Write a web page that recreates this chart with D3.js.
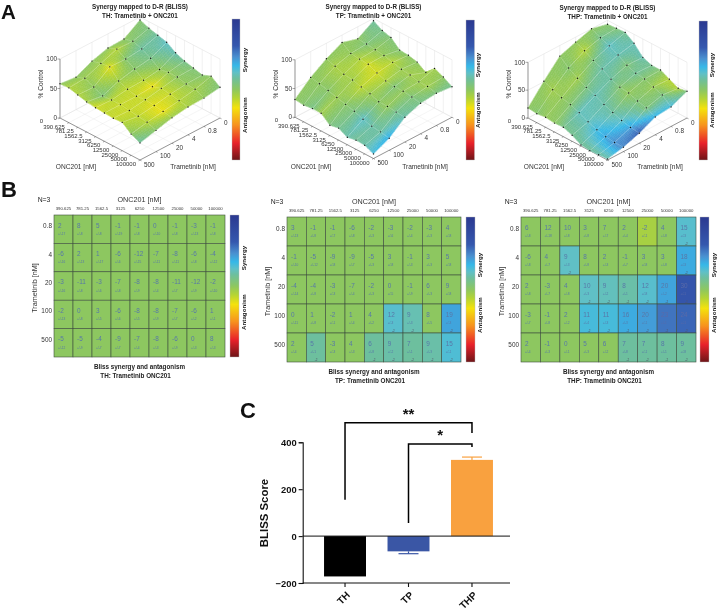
<!DOCTYPE html>
<html><head><meta charset="utf-8">
<script src="https://cdn.jsdelivr.net/npm/d3@7"></script>
<style>html,body{margin:0;padding:0;background:#fff}svg{display:block;filter:blur(0.3px)}text{font-family:"Liberation Sans",Arial,sans-serif}</style>
</head><body><svg id="c" width="720" height="612"></svg>
<script>
// ---- tick labels ----
const oncTicks3d = ["0","390.625","781.25","1562.5","3125","6250","12500","25000","50000","100000"];
const tramTicks3d = ["0","0.8","4","20","100","500"];
const oncTicks = oncTicks3d.slice(1);
const tramTicks = tramTicks3d.slice(1);
const zTicks = [0,50,100];
// ---- % control surfaces (rows: Trametinib, columns: ONC201) ----
const thSurface = [
 [95,89,85,81,71,65,61,57,63,52],
 [77,81,76,68,57,60,60,56,55,48],
 [76,82,73,64,53,50,55,53,50,47],
 [68,72,74,58,52,48,50,48,46,43],
 [55,61,54,47,48,48,46,44,42,36],
 [58,59,55,51,49,48,47,48,36,29]];
const tpSurface = [
 [96,87,83,69,68,64,54,69,62,53],
 [79,78,76,74,70,66,64,60,60,56],
 [87,76,74,73,66,60,58,58,56,53],
 [73,68,62,60,56,52,46,46,44,43],
 [55,52,48,44,40,36,30,26,24,21],
 [31,29,31,31,18,21,13,16,15,8]];
const thpSurface = [
 [93,94,95,84,67,61,61,53,45,48],
 [100,92,86,78,68,62,60,54,48,35],
 [91,84,75,68,58,52,50,44,40,32],
 [81,68,58,50,44,36,30,24,20,18],
 [51,44,38,34,28,20,14,10,8,8],
 [18,16,18,16,17,11,2,0,1,2]];
// synergy along the Trametinib 0 row of each surface
const thEdge = [2,4,8,12,10,6,3,2,0,3];
const tpEdge = [8,5,3,2,1,0,-2,-3,0,6];
const thpEdge = [2,3,6,10,10,6,2,-6,-6,4];
// ---- Bliss values ----
const thBliss = [
 [2,8,5,-1,-1,0,-1,-3,-1],
 [-6,2,1,-6,-12,-7,-8,-6,-4],
 [-3,-11,-3,-7,-8,-8,-11,-12,-2],
 [-2,0,3,-6,-8,-8,-7,-6,1],
 [-5,-5,-4,-9,-7,-8,-6,0,8]];
const tpBliss = [
 [3,-1,-1,-6,-2,-3,-2,-3,4],
 [-1,-5,-9,-9,-5,3,-1,3,5],
 [-4,-4,-3,-7,-2,0,-1,6,9],
 [0,1,-2,1,4,12,9,8,19],
 [2,5,-3,4,6,9,7,9,15]];
const thpBliss = [
 [6,12,10,3,7,2,-2,4,15],
 [-6,4,9,8,2,-1,3,3,18],
 [2,-3,4,10,9,8,12,20,30],
 [-3,-1,2,11,11,16,20,23,24],
 [2,-1,0,5,6,7,7,8,9]];
const thErr = [
 [17,8,8,19,8,10,8,13,8],
 [16,13,17,6,15,11,11,8,12],
 [16,8,6,8,9,4,7,9,10],
 [13,8,5,6,5,9,7,2,1],
 [12,9,7,7,4,3,9,3,3]];
const tpErr = [
 [13,8,7,8,3,6,4,3,8],
 [10,12,8,7,3,8,3,3,8],
 [14,8,3,4,3,5,9,3,8],
 [11,8,1,4,2,3,3,5,3],
 [4,1,3,3,8,2,1,3,1]];
const thpErr = [
 [8,18,8,8,7,4,1,8,3],
 [8,7,3,8,3,7,8,8,3],
 [8,7,8,3,2,1,8,2,1],
 [7,8,2,4,3,3,1,1,1],
 [4,3,1,3,2,8,1,1,8]];
// cell shade on the colour bar: only significant cells leave the neutral green
const thShade = [
 [0,0,0,0,0,0,0,0,0],[0,0,0,0,0,0,0,0,0],[0,0,0,0,0,0,0,0,0],[0,0,0,0,0,0,0,0,0],[0,0,0,0,0,0,0,0,0]];
const tpShade = [
 [0,0,0,0,0,0,0,0,0],[0,0,0,0,0,0,0,0,0],[0,0,0,0,0,0,0,0,0],
 [0,0,0,0,0,13,10,0,20],
 [0,8,0,0,8,9,8,9,14]];
const thpShade = [
 [0,0,0,0,0,0,-4,0,13],
 [0,0,12,0,0,0,0,0,19],
 [0,0,0,12,11,9,13,20,33],
 [0,0,0,15,15,19,21,27,29],
 [0,0,0,0,0,8,8,8,8]];
// ---- colour bar ----
const cbValues = [-50,-38,-25,-13,-6,0,8,12,17,23,31,50];
const cbColors = ["#6e1518","#e8212a","#f7931e","#f4e20c","#b4d435","#8dc760","#6dbf9e","#60c0c6","#36b8e8","#4a90d0","#3558ae","#2b3990"];
// ---- bar chart ----
const barCats = ["TH","TP","THP"];
const barValues = [-172,-65,325];
const barErrors = [0,10,12];
const barColors = ["#000000","#3a56a5","#f9a13f"];
const barTicks = [-200,0,200,400];
// brackets: [from category, from value, top value, to category, to value]
const bracketList = [["TH",155,483,"THP",440,"**"],["TP",56,393,"THP",380,"*"]];

const svg = d3.select("#c");
svg.append("rect").attr("width",720).attr("height",612).attr("fill","#fff");
const color = d3.scaleLinear().domain(cbValues).range(cbColors).interpolate(d3.interpolateRgb).clamp(true);
const defs = svg.append("defs");
const gr = defs.append("linearGradient").attr("id","cb").attr("x1",0).attr("x2",0).attr("y1",1).attr("y2",0);
const cbFrac = d3.scaleLinear().domain([-50,50]).range([0,1]);
cbValues.forEach((v,i)=>gr.append("stop").attr("offset",cbFrac(v)).attr("stop-color",cbColors[i]));

function txt(g,x,y,s,size,opt={}){
  const t=g.append("text").attr("x",x).attr("y",y).text(s).attr("font-size",size)
   .attr("text-anchor",opt.anchor||"middle").attr("fill",opt.fill||"#222");
  if(opt.bold)t.attr("font-weight","bold");
  if(opt.rot!=null)t.attr("transform",`rotate(${opt.rot} ${x} ${y})`);
  if(opt.op)t.attr("opacity",opt.op);
  return t;
}
function colorBar(g,x,y0,y1,w,lx,sy,ay,fs){
  g.append("rect").attr("x",x).attr("y",y0).attr("width",w).attr("height",y1-y0).attr("fill","url(#cb)").attr("stroke","#bbb").attr("stroke-width",.4);
  txt(g,lx,sy,"Synergy",fs,{bold:true,rot:-90});
  txt(g,lx,ay,"Antagonism",fs,{bold:true,rot:-90});
}
function surface(cfg){
  const g=svg.append("g");
  const {L,C,R,F,B,zh,Z,bliss,edge,name}=cfg;
  const uS=d3.scalePoint().domain(oncTicks3d).range([0,1]);
  const vS=d3.scalePoint().domain(tramTicks3d).range([0,1]);
  const zS=d3.scaleLinear().domain([0,100]).range([0,zh]);
  const sx=(u,v)=>C+(R-C)*u-(C-L)*v;
  const sy=(u,v,z)=>B+(F-B)/2*u+(F-B)/2*v-zS(z);
  const line=(a,b,c,d,col,w)=>g.append("line").attr("x1",a).attr("y1",b).attr("x2",c).attr("y2",d).attr("stroke",col).attr("stroke-width",w);
  zTicks.forEach(z=>{line(sx(0,1),sy(0,1,z),sx(0,0),sy(0,0,z),"#dcdcdc",.5);line(sx(0,0),sy(0,0,z),sx(1,0),sy(1,0,z),"#dcdcdc",.5);});
  oncTicks3d.forEach(t=>{const u=uS(t);line(sx(u,0),sy(u,0,0),sx(u,0),sy(u,0,100),"#e2e2e2",.5);line(sx(u,0),sy(u,0,0),sx(u,1),sy(u,1,0),"#e6e6e6",.4);});
  tramTicks3d.forEach(t=>{const v=vS(t);line(sx(0,v),sy(0,v,0),sx(0,v),sy(0,v,100),"#e2e2e2",.5);line(sx(0,v),sy(0,v,0),sx(1,v),sy(1,v,0),"#e6e6e6",.4);});
  line(sx(0,1),sy(0,1,0),sx(1,1),sy(1,1,0),"#555",.6);
  line(sx(1,1),sy(1,1,0),sx(1,0),sy(1,0,0),"#555",.6);
  line(sx(0,1),sy(0,1,0),sx(0,1),sy(0,1,100),"#999",1);
  zTicks.forEach(z=>{line(sx(0,1)-2.5,sy(0,1,z),sx(0,1),sy(0,1,z),"#555",.5);
    txt(g,sx(0,1)-3,sy(0,1,z)+2.2,z,6.4,{anchor:"end",fill:"#333"});});
  oncTicks3d.forEach(t=>{const u=uS(t);const x=sx(u,1),y=sy(u,1,0);
    line(x,y,x-1.5,y+.8,"#555",.5);
    const dx=t==="0"?-17:-4;
    txt(g,x+dx,y+(t==="0"?5:6),t,6,{anchor:"end",fill:"#333"});});
  tramTicks3d.forEach(t=>{const v=vS(t);const x=sx(1,v),y=sy(1,v,0);
    line(x,y,x+1.5,y+.8,"#555",.5);
    txt(g,x+4,y+6.5,t,6.4,{anchor:"start",fill:"#333"});});
  const colVal=(j,i)=>j===0?edge[i]:(i===0?0:bliss[j-1][i-1]);
  const n=6, patches=[];
  for(let j=0;j<Z.length-1;j++)for(let i=0;i<Z[0].length-1;i++){
    for(let a=0;a<n;a++)for(let b=0;b<n;b++){
      const cor=[[a,b],[a+1,b],[a+1,b+1],[a,b+1]].map(([p,q])=>{
        const s=p/n,t=q/n;
        const bil=f=>(1-s)*(1-t)*f(j,i)+s*(1-t)*f(j,i+1)+(1-s)*t*f(j+1,i)+s*t*f(j+1,i+1);
        const z=bil((y,x)=>Z[y][x]);
        const u=(i+s)/9,v=(j+t)/5;
        return [sx(u,v),sy(u,v,z)];
      });
      const sc=(a+.5)/n,tc=(b+.5)/n;
      const cv=(1-sc)*(1-tc)*colVal(j,i)+sc*(1-tc)*colVal(j,i+1)+(1-sc)*tc*colVal(j+1,i)+sc*tc*colVal(j+1,i+1);
      patches.push({d:"M"+cor.join("L")+"Z",c:color(cv)});
    }
  }
  g.append("g").selectAll("path").data(patches).join("path").attr("d",d=>d.d).attr("fill",d=>d.c).attr("stroke",d=>d.c).attr("stroke-width",.45);
  const pt=(j,i)=>[sx(i/9,j/5),sy(i/9,j/5,Z[j][i])];
  const mesh=d3.line();
  d3.range(6).forEach(j=>g.append("path").attr("d",mesh(d3.range(10).map(i=>pt(j,i)))).attr("fill","none").attr("stroke","#fff").attr("stroke-opacity",.4).attr("stroke-width",.45));
  d3.range(10).forEach(i=>g.append("path").attr("d",mesh(d3.range(6).map(j=>pt(j,i)))).attr("fill","none").attr("stroke","#fff").attr("stroke-opacity",.55).attr("stroke-width",.5));
  d3.range(6).forEach(j=>d3.range(10).forEach(i=>{const [x,y]=pt(j,i);
    g.append("circle").attr("cx",x).attr("cy",y).attr("r",.7).attr("fill","#111");}));
  txt(g,C,cfg.ty,"Synergy mapped to D-R (BLISS)",6.3,{bold:true});
  txt(g,C,cfg.ty+9,name+": Trametinib + ONC201",6.3,{bold:true});
  txt(g,L+16,168.5,"ONC201 [nM]",6.6,{fill:"#333"});
  txt(g,R-27,169,"Trametinib [nM]",6.6,{fill:"#333"});
  txt(g,L-17,84,"% Control",6.6,{rot:-90,fill:"#333"});
}
function heat(cfg){
  const g=svg.append("g");
  const {x0,x1,y0,y1,bliss,err,shade,name,exp}=cfg;
  const x=d3.scaleBand().domain(oncTicks).range([x0,x1]);
  const y=d3.scaleBand().domain(tramTicks).range([y0,y1]);
  tramTicks.forEach((t,j)=>oncTicks.forEach((o,i)=>{
    const cx=x(o),cy=y(t);
    g.append("rect").attr("x",cx).attr("y",cy).attr("width",x.bandwidth()).attr("height",y.bandwidth())
      .attr("fill",color(shade[j][i])).attr("stroke","#3f4f3f").attr("stroke-width",.6);
    const fc=shade[j][i]>=23?"#5a6aa8":"#5878a8";
    txt(g,cx+4,cy+12.5,bliss[j][i],6.4,{anchor:"start",fill:fc});
    txt(g,cx+4,cy+20,"+/-"+err[j][i],3.2,{anchor:"start",fill:fc});
    if(shade[j][i]>5) txt(g,cx+x.bandwidth()/2,cy+y.bandwidth()-.8,"-"+(exp&&exp[j]&&exp[j][i]||2),3,{fill:"#556"});
  }));
  oncTicks.forEach(o=>txt(g,x(o)+x.bandwidth()/2,y0-5,o,4.3,{fill:"#333"}));
  tramTicks.forEach(t=>txt(g,x0-2,y(t)+y.bandwidth()/2-1,t,6.4,{anchor:"end",fill:"#333"}));
  txt(g,(x0+x1)/2,y0-13.5,"ONC201 [nM]",7.2,{fill:"#333"});
  txt(g,x0-10,y0-13.5,"N=3",6.8,{fill:"#222"});
  txt(g,x0-17,(y0+y1)/2+2,"Trametinib [nM]",7.2,{rot:-90,fill:"#333"});
  txt(g,(x0+x1)/2,y1+12,"Bliss synergy and antagonism",6.3,{bold:true});
  txt(g,(x0+x1)/2-4,y1+21,name+": Trametinib ONC201",6.3,{bold:true});
}
// Panel A
surface({L:60,C:140,R:220,B:76,F:160,zh:59,Z:thSurface,bliss:thBliss,edge:thEdge,name:"TH",ty:8.5});
colorBar(svg,232,19,160,8,247,60,115,6.2);
surface({L:295,C:373.5,R:452,B:76,F:158.5,zh:57.5,Z:tpSurface,bliss:tpBliss,edge:tpEdge,name:"TP",ty:8.5});
colorBar(svg,466,20,160,8.5,480,65,110,6.2);
surface({L:528,C:607.5,R:687,B:76,F:160,zh:55.7,Z:thpSurface,bliss:thpBliss,edge:thpEdge,name:"THP",ty:10});
colorBar(svg,699,21,160,8.5,714,65,110,6.2);
// Panel B
heat({x0:54,x1:225,y0:215,y1:357,bliss:thBliss,err:thErr,shade:thShade,name:"TH"});
colorBar(svg,230,215,357,9,246,258,312,6.2);
heat({x0:287,x1:461,y0:217,y1:362,bliss:tpBliss,err:tpErr,shade:tpShade,name:"TP"});
colorBar(svg,466,217,362,9,482,265,315,6.2);
heat({x0:521,x1:696,y0:217,y1:362,bliss:thpBliss,err:thpErr,shade:thpShade,name:"THP"});
colorBar(svg,700,217,362,9,716,265,315,6.2);
// Panel letters
txt(svg,1,19,"A",20.5,{anchor:"start",bold:true,fill:"#111"});
txt(svg,1,197,"B",22,{anchor:"start",bold:true,fill:"#111"});
txt(svg,240,418,"C",22,{anchor:"start",bold:true,fill:"#111"});
// Panel C
const cg=svg.append("g");
const bx=d3.scaleBand().domain(barCats).range([313.25,503.75]).paddingInner(.339).paddingOuter(.17);
const by=d3.scaleLinear().domain([-200,400]).range([583,442.3]);
cg.selectAll("rect.b").data(barCats).join("rect").attr("class","b")
  .attr("x",d=>bx(d)).attr("width",bx.bandwidth())
  .attr("y",(d,i)=>by(Math.max(0,barValues[i])))
  .attr("height",(d,i)=>Math.abs(by(barValues[i])-by(0)))
  .attr("fill",(d,i)=>barColors[i]);
barCats.forEach((c,i)=>{ if(!barErrors[i])return;
  const e=barValues[i]+Math.sign(barValues[i])*barErrors[i], cx=bx(c)+bx.bandwidth()/2, w=10;
  cg.append("line").attr("x1",cx).attr("x2",cx).attr("y1",by(barValues[i])).attr("y2",by(e)).attr("stroke",barColors[i]).attr("stroke-width",1.2);
  cg.append("line").attr("x1",cx-w).attr("x2",cx+w).attr("y1",by(e)).attr("y2",by(e)).attr("stroke",barColors[i]).attr("stroke-width",1.2);
});
const ya=cg.append("g").attr("transform","translate(302.7,0)").call(d3.axisLeft(by).tickValues(barTicks).tickSize(4).tickFormat(d3.format("d")));
ya.selectAll("text").attr("font-size",9.4).attr("font-weight","bold").attr("fill","#111").attr("font-family","Liberation Sans").attr("dx",1);
ya.selectAll("line,path").attr("stroke","#111").attr("stroke-width",1.1);
const xa=cg.append("g").attr("transform","translate(0,583)").call(d3.axisBottom(bx).tickSize(4).tickSizeOuter(0));
xa.select("path").attr("d","M302.7,0H510").attr("stroke","#111").attr("stroke-width",1.1);
xa.selectAll("line").attr("stroke","#111").attr("stroke-width",1.1);
xa.selectAll("text").attr("font-size",10).attr("font-weight","bold").attr("fill","#111").attr("font-family","Liberation Sans")
  .attr("text-anchor","end").attr("transform","rotate(-45)").attr("dx","-5").attr("dy","6");
cg.append("line").attr("x1",302.7).attr("x2",510).attr("y1",by(0)).attr("y2",by(0)).attr("stroke","#111").attr("stroke-width",1);
txt(cg,268,513,"BLISS Score",11.4,{bold:true,rot:-90,fill:"#111"});
bracketList.forEach(([a,v0,vt,b,v1,s])=>{
  const xa=bx(a)+bx.bandwidth()/2,xb=bx(b)+bx.bandwidth()/2;
  cg.append("path").attr("d",`M${xa},${by(v0)}V${by(vt)}H${xb}V${by(v1)}`).attr("fill","none").attr("stroke","#000").attr("stroke-width",1.5);
  txt(cg,(xa+xb)/2,by(vt)-3.5,s,15,{bold:true,fill:"#111"});
});
</script></body></html>
